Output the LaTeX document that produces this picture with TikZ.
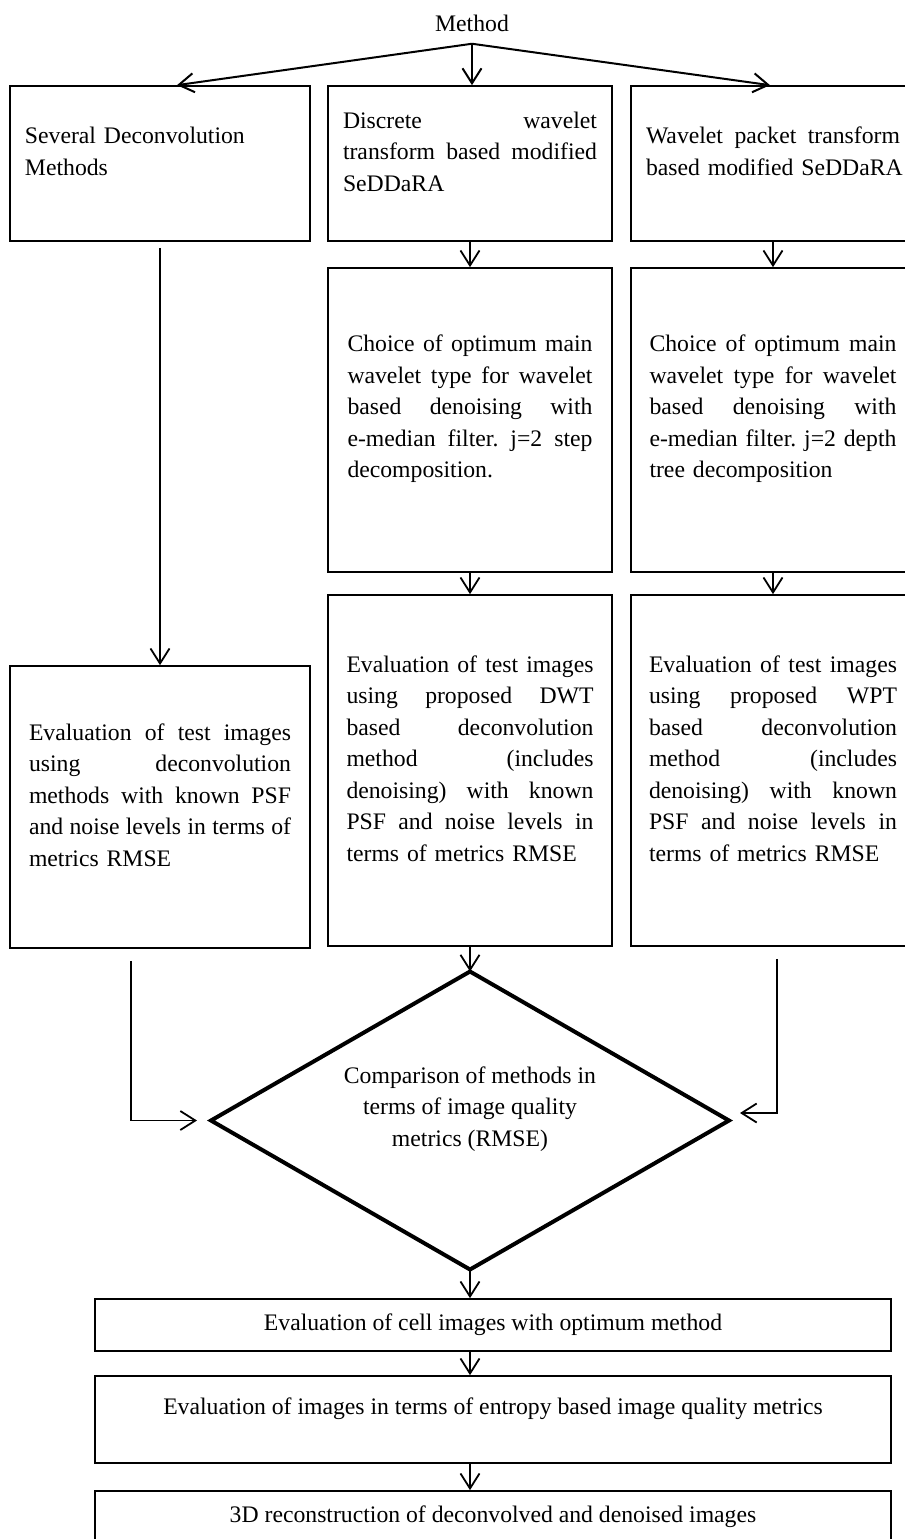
\documentclass[tikz,border=0pt]{standalone}
\usepackage{fontspec}
\setmainfont{Liberation Serif}
\usetikzlibrary{arrows.meta,shapes.geometric}

% one justified line of a box text
\newcommand{\jl}[1]{\noindent\hbox to \hsize{\frenchspacing\spaceskip=\fontdimen2\font plus 1fil\relax #1}\\}
\newcommand{\boxfont}{\fontsize{11.85pt}{15.75pt}\selectfont\hyphenpenalty 10000\relax}

\begin{document}
\begin{tikzpicture}[
        x=0.5pt, y=-0.5pt,
        frame/.style={draw, line width=0.85pt, inner sep=0pt},
        txt/.style={inner sep=0pt, align=left, font=\boxfont},
        decision/.style={diamond, draw, line width=2pt, inner sep=0pt, outer sep=0pt,
            minimum width=259pt, minimum height=149pt},
        arr/.style={line width=0.9pt, -{Straight Barb[length=7.5pt, width=9.5pt]}}
    ]
        \useasboundingbox (0,0) rectangle (905,1539);

        % frames
        \node[frame, minimum width=150pt, minimum height=77.5pt] (sdm) at (160,163.5) {};
        \node[frame, minimum width=142pt, minimum height=77.5pt] (dwt) at (470,163.5) {};
        \node[frame, minimum width=142pt, minimum height=77.5pt] (wpt) at (773,163.5) {};
        \node[frame, minimum width=142pt, minimum height=152pt] (dch) at (470,420) {};
        \node[frame, minimum width=142pt, minimum height=152pt] (wch) at (773,420) {};
        \node[frame, minimum width=150pt, minimum height=141pt] (sev) at (160,807) {};
        \node[frame, minimum width=142pt, minimum height=175.5pt] (dwe) at (470,770.5) {};
        \node[frame, minimum width=142pt, minimum height=175.5pt] (wpe) at (773,770.5) {};
        \node[decision] (cmp) at (470,1120.5) {};
        \node[frame, minimum width=398pt, minimum height=26pt] (cel) at (493,1325) {};
        \node[frame, minimum width=398pt, minimum height=43.5pt] (ent) at (493,1419.5) {};
        \node[frame, minimum width=398pt, minimum height=26pt] (rec) at (493,1517) {};

        % texts
        \node[txt, inner ysep=6pt] (root) at (472,23) {Method};
        \node[txt, text width=135pt] (sdm-t) at ([yshift=6pt]sdm.center)
            {Several Deconvolution\\Methods};
        \node[txt, text width=127pt] (dwt-t) at ([yshift=6pt]dwt.center)
            {\jl{Discrete wavelet}\jl{transform based modified}SeDDaRA};
        \node[txt, text width=127pt] (wpt-t) at ([yshift=6pt]wpt.center)
            {\jl{Wavelet packet transform}\mbox{based modified SeDDaRA}};
        \node[txt, text width=122.5pt] (dch-t) at ([yshift=5.5pt]dch.center)
            {\jl{Choice of optimum main}\jl{wavelet type for wavelet}\jl{based denoising with}%
             \jl{e-median filter. j=2 step}decomposition.};
        \node[txt, text width=123.5pt] (wch-t) at ([yshift=5.5pt]wch.center)
            {\jl{Choice of optimum main}\jl{wavelet type for wavelet}\jl{based denoising with}%
             \jl{e-median filter. j=2 depth}tree decomposition};
        \node[txt, text width=131pt] (sev-t) at ([yshift=6pt]sev.center)
            {\jl{Evaluation of test images}\jl{using deconvolution}\jl{methods with known PSF}%
             \jl{and noise levels in terms of}metrics RMSE};
        \node[txt, text width=123.5pt] (dwe-t) at ([yshift=6pt]dwe.center)
            {\jl{Evaluation of test images}\jl{using proposed DWT}\jl{based deconvolution}%
             \jl{method (includes}\jl{denoising) with known}\jl{PSF and noise levels in}%
             terms of metrics RMSE};
        \node[txt, text width=124pt] (wpe-t) at ([yshift=6pt]wpe.center)
            {\jl{Evaluation of test images}\jl{using proposed WPT}\jl{based deconvolution}%
             \jl{method (includes}\jl{denoising) with known}\jl{PSF and noise levels in}%
             terms of metrics RMSE};
        \node[txt, align=center] (cmp-t) at ([yshift=5.75pt]cmp.center)
            {Comparison of methods in\\terms of image quality\\metrics (RMSE)};
        \node[txt] (cel-t) at (cel.center) {Evaluation of cell images with optimum method};
        \node[txt] (ent-t) at ([yshift=5.5pt]ent.center)
            {Evaluation of images in terms of entropy based image quality metrics};
        \node[txt] (rec-t) at (rec.center) {3D reconstruction of deconvolved and denoised images};

        % connectors
        \draw[arr, line width=1pt] (root.south) -- ([xshift=8.5pt]sdm.north);
        \draw[arr, line width=1pt] (root.south) -- ([xshift=1pt]dwt.north);
        \draw[arr, line width=1pt] (root.south) -- ([xshift=-1.5pt]wpt.north);
        \draw[arr, shorten <=3pt] (sdm) -- (sev);
        \draw[arr] (dwt) -- (dch);
        \draw[arr] (wpt) -- (wch);
        \draw[arr] (dch) -- (dwe);
        \draw[arr] (wch) -- (wpe);
        \draw[arr] (dwe) -- (cmp);
        \draw[arr] ([xshift=-14.5pt, yshift=-6pt]sev.south) |- ([xshift=-7pt]cmp.west);
        \draw[arr] ([xshift=2pt, yshift=-6pt]wpe.south) |- ([xshift=5.5pt, yshift=3.75pt]cmp.east);
        \draw[arr] (cmp.south) -- (cmp.south |- cel.north);
        \draw[arr] (cel.south -| cmp) -- (ent.north -| cmp);
        \draw[arr] (ent.south -| cmp) -- (rec.north -| cmp);
    \end{tikzpicture}
\end{document}
